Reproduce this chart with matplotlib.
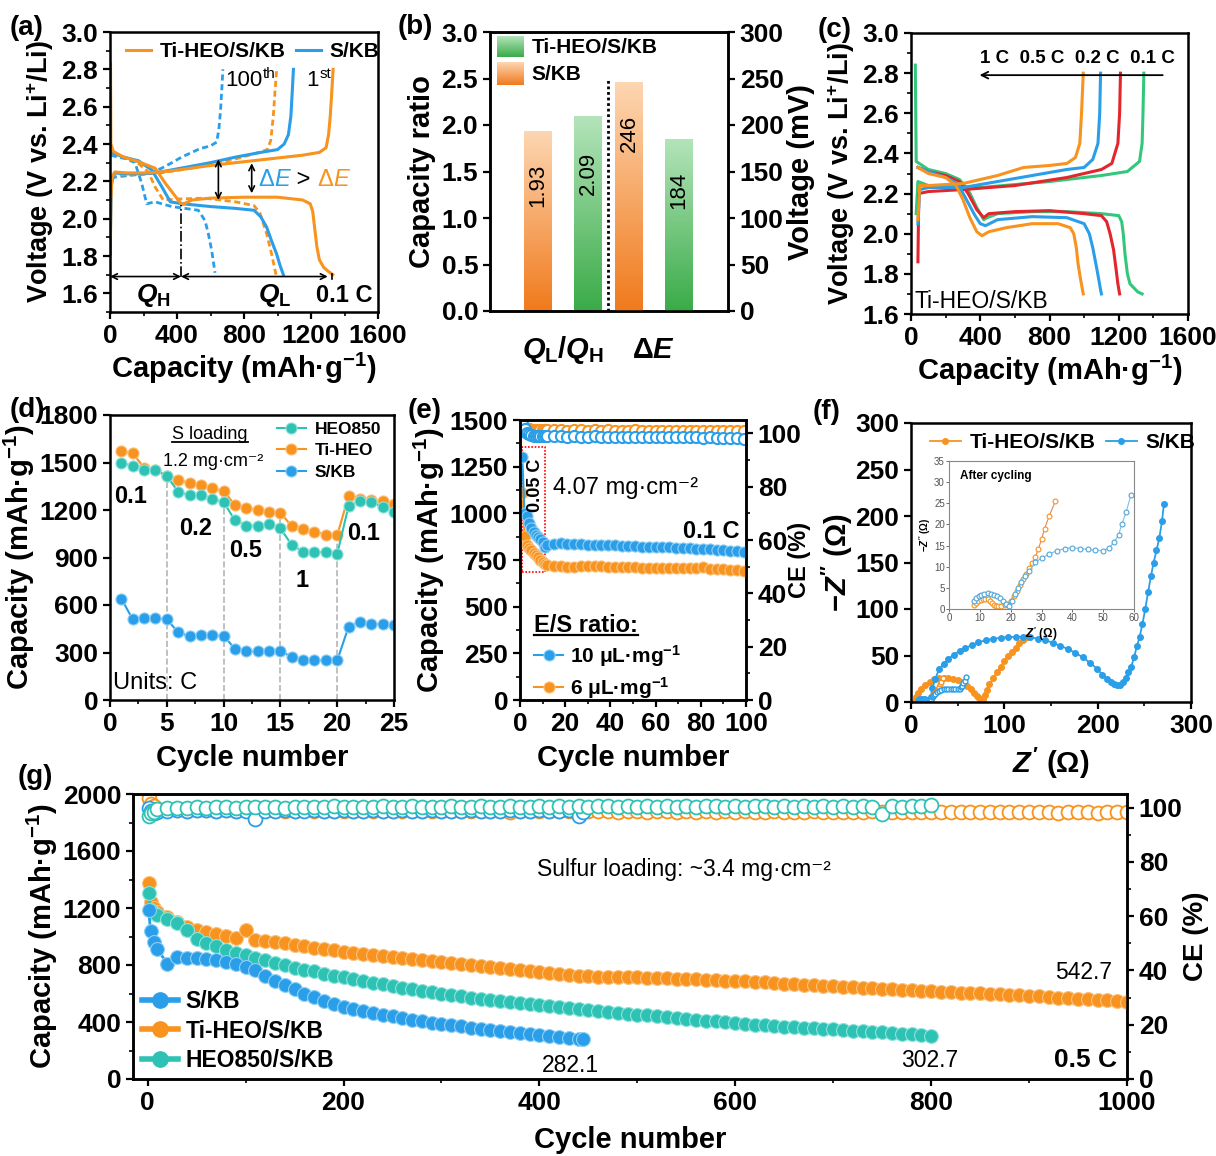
import matplotlib

matplotlib.use("Agg")
import matplotlib.pyplot as plt
import numpy as np
from matplotlib.colors import LinearSegmentedColormap
from matplotlib.lines import Line2D
from matplotlib.patches import Rectangle
from matplotlib.ticker import MultipleLocator, FormatStrFormatter

plt.rcParams.update({
    "font.family": ["Liberation Sans", "DejaVu Sans"],
    "font.size": 19,
    "font.weight": "bold",
    "axes.labelweight": "bold",
    "axes.linewidth": 1.8,
    "mathtext.fontset": "custom",
    "mathtext.rm": "Liberation Sans:bold",
    "mathtext.it": "Liberation Sans:italic:bold",
    "mathtext.bf": "Liberation Sans:bold",
})

ORANGE = "#f7931e"
BLUE = "#2a9ee8"
TEAL = "#2ec2b5"
RED = "#e2262c"
GREEN = "#33c77c"

# ---------------- (a) 0.1 C profiles, 1st / 100th cycle
a_ti1_dis_cap = [3, 5, 20, 80, 170, 270, 330, 390, 430, 490, 600, 800, 1000, 1150, 1195, 1210, 1222, 1235, 1250, 1275, 1300, 1330]
a_ti1_dis_v = [2.83, 2.40, 2.36, 2.33, 2.305, 2.27, 2.19, 2.12, 2.075, 2.10, 2.11, 2.115, 2.115, 2.10, 2.08, 2.04, 1.95, 1.85, 1.78, 1.74, 1.72, 1.70]
a_ti1_chg_cap = [3, 5, 12, 30, 100, 200, 300, 400, 600, 800, 1000, 1150, 1250, 1290, 1305, 1315, 1322, 1328, 1332]
a_ti1_chg_v = [1.90, 2.10, 2.22, 2.25, 2.245, 2.245, 2.25, 2.26, 2.285, 2.305, 2.325, 2.34, 2.355, 2.38, 2.45, 2.55, 2.65, 2.74, 2.80]
a_kb1_dis_cap = [5, 20, 80, 170, 250, 310, 360, 430, 600, 750, 860, 900, 935, 965, 995, 1015, 1035]
a_kb1_dis_v = [2.36, 2.35, 2.33, 2.31, 2.26, 2.17, 2.09, 2.08, 2.065, 2.055, 2.045, 2.01, 1.955, 1.88, 1.81, 1.75, 1.70]
a_kb1_chg_cap = [2, 3, 8, 25, 100, 200, 300, 450, 600, 750, 900, 1000, 1040, 1065, 1080, 1088, 1095]
a_kb1_chg_v = [1.81, 1.95, 2.18, 2.245, 2.24, 2.24, 2.25, 2.275, 2.30, 2.33, 2.355, 2.37, 2.40, 2.45, 2.55, 2.68, 2.80]
a_ti100_dis_cap = [5, 50, 150, 229, 269, 318, 400, 567, 750, 860, 895, 935, 965, 991]
a_ti100_dis_v = [2.35, 2.34, 2.31, 2.25, 2.17, 2.10, 2.105, 2.11, 2.09, 2.07, 2.03, 1.92, 1.81, 1.70]
a_ti100_chg_cap = [5, 30, 150, 300, 450, 600, 750, 870, 940, 960, 975, 985, 995]
a_ti100_chg_v = [2.22, 2.235, 2.235, 2.245, 2.265, 2.29, 2.32, 2.35, 2.37, 2.42, 2.55, 2.68, 2.80]
a_kb100_dis_cap = [5, 50, 100, 149, 189, 219, 269, 368, 527, 567, 587, 607, 627]
a_kb100_dis_v = [2.34, 2.33, 2.32, 2.30, 2.19, 2.08, 2.09, 2.065, 2.045, 1.99, 1.92, 1.83, 1.71]
a_kb100_chg_cap = [5, 100, 200, 250, 308, 370, 428, 537, 600, 637, 650, 660, 668, 674]
a_kb100_chg_v = [2.22, 2.23, 2.24, 2.25, 2.27, 2.30, 2.33, 2.375, 2.39, 2.41, 2.48, 2.58, 2.70, 2.80]

# ---------------- (b) ratio / polarization
b_labels = ["S/KB", "Ti-HEO/S/KB"]
b_ratio = [1.93, 2.09]
b_dE = [246, 184]

# ---------------- (c) Ti-HEO/S/KB at different rates
c_rates = ["1 C", "0.5 C", "0.2 C", "0.1 C"]
c_1_dis_cap = [40, 100, 200, 260, 300, 340, 380, 410, 450, 550, 700, 850, 920, 940, 955, 965, 980, 995]
c_1_dis_v = [2.33, 2.30, 2.28, 2.24, 2.17, 2.08, 2.01, 1.99, 2.01, 2.03, 2.05, 2.05, 2.03, 2.0, 1.93, 1.85, 1.77, 1.70]
c_1_chg_cap = [40, 50, 100, 300, 500, 650, 800, 900, 950, 975, 985, 990, 995]
c_1_chg_v = [2.07, 2.24, 2.24, 2.25, 2.29, 2.33, 2.34, 2.35, 2.38, 2.45, 2.6, 2.7, 2.8]
c_05_dis_cap = [40, 100, 200, 270, 320, 370, 400, 430, 500, 700, 900, 1000, 1030, 1050, 1070, 1085, 1095, 1100]
c_05_dis_v = [2.33, 2.31, 2.28, 2.25, 2.17, 2.09, 2.05, 2.04, 2.07, 2.085, 2.08, 2.05, 2.0, 1.93, 1.84, 1.77, 1.72, 1.70]
c_05_chg_cap = [40, 50, 100, 300, 500, 700, 900, 1000, 1050, 1080, 1090, 1095]
c_05_chg_v = [2.05, 2.22, 2.23, 2.23, 2.26, 2.29, 2.32, 2.33, 2.37, 2.45, 2.6, 2.8]
c_02_dis_cap = [40, 100, 200, 280, 330, 380, 420, 450, 600, 800, 1000, 1100, 1130, 1150, 1170, 1185, 1195, 1205]
c_02_dis_v = [2.33, 2.31, 2.29, 2.26, 2.20, 2.12, 2.08, 2.10, 2.11, 2.115, 2.10, 2.09, 2.06, 2.0, 1.92, 1.82, 1.75, 1.70]
c_02_chg_cap = [40, 45, 100, 300, 600, 900, 1100, 1160, 1195, 1205, 1210]
c_02_chg_v = [1.86, 2.2, 2.21, 2.22, 2.24, 2.28, 2.32, 2.35, 2.45, 2.6, 2.8]
c_01_dis_cap = [25, 30, 100, 200, 280, 330, 380, 420, 440, 500, 700, 900, 1100, 1200, 1217, 1226, 1236, 1250, 1265, 1310, 1335]
c_01_dis_v = [2.84, 2.36, 2.32, 2.30, 2.27, 2.22, 2.13, 2.07, 2.08, 2.10, 2.11, 2.11, 2.10, 2.09, 2.06, 2.0, 1.90, 1.80, 1.75, 1.71, 1.70]
c_01_chg_cap = [30, 40, 100, 400, 800, 1100, 1250, 1320, 1335, 1340, 1345]
c_01_chg_v = [2.10, 2.26, 2.24, 2.23, 2.26, 2.29, 2.31, 2.36, 2.45, 2.6, 2.8]

# ---------------- (d) rate capability, 1.2 mg cm-2
d_cycle = list(range(1, 26))
d_heo850 = [1495, 1480, 1452, 1452, 1416, 1314, 1293, 1293, 1268, 1251, 1134, 1102, 1102, 1113, 1085,
            979, 937, 937, 933, 922, 1225, 1255, 1251, 1219, 1187]
d_tiheo = [1573, 1558, 1467, 1452, 1416, 1389, 1372, 1357, 1336, 1321, 1230, 1215, 1198, 1187, 1183,
           1098, 1077, 1064, 1045, 1039, 1289, 1272, 1261, 1257, 1240]
d_skb = [640, 509, 519, 519, 509, 428, 403, 409, 409, 407, 322, 307, 307, 312, 312,
         269, 250, 250, 250, 250, 462, 492, 481, 477, 471]
d_rate_labels = ["0.1", "0.2", "0.5", "1", "0.1"]

# ---------------- (e) lean electrolyte, 4.07 mg cm-2
e_cycle = [1, 2, 3, 4, 5, 6, 7, 8, 9, 10, 11, 12, 15, 18, 21, 24, 27, 30, 33, 36, 39, 42, 45, 48, 51,
           54, 57, 60, 63, 66, 69, 72, 75, 78, 81, 84, 87, 90, 93, 96, 99]
e_cap_10 = [1300, 1000, 985, 950, 920, 900, 885, 875, 865, 845, 822, 828, 838, 840, 838, 836, 835, 833, 831,
            830, 830, 828, 826, 825, 823, 822, 821, 820, 818, 817, 815, 814, 812, 811, 809, 807, 805, 803,
            800, 797, 793]
e_cap_6 = [1110, 880, 830, 815, 805, 790, 775, 765, 748, 738, 728, 722, 720, 716, 712, 714, 716, 720, 718,
           716, 714, 715, 712, 712, 710, 708, 706, 706, 705, 706, 707, 709, 706, 707, 710, 704, 702, 700,
           698, 695, 692]
e_ce_10 = [103.5, 101.5, 100.2, 99.6, 99.3, 99.1, 99.0, 99.0, 98.9, 99.0, 98.9, 99.0, 98.9, 98.9, 98.8,
           98.9, 98.8, 98.8, 98.9, 98.7, 98.8, 98.7, 98.8, 98.7, 98.6, 98.7, 98.6, 98.7, 98.6, 98.5, 98.6,
           98.5, 98.6, 98.5, 98.4, 98.5, 98.4, 98.3, 98.4, 98.2, 98.0]
e_ce_6 = [101.0, 102.0, 101.8, 101.5, 101.4, 101.3, 101.3, 101.2, 101.2, 101.1, 101.2, 101.1, 101.2, 101.1,
          101.0, 101.1, 101.2, 101.0, 101.1, 101.0, 101.1, 101.0, 100.9, 101.0, 101.1, 100.9, 101.0, 100.9,
          101.0, 100.9, 100.8, 100.9, 101.0, 100.8, 100.9, 100.8, 100.9, 100.8, 100.7, 100.8, 100.7]

# ---------------- (f) EIS
f_ti_zr = [3, 5, 8, 11, 15, 20, 25, 30, 35, 40, 45, 50, 55, 60, 64, 68, 71, 73, 75, 76.5, 77.5, 79, 81, 84,
           88, 92, 96, 100, 104, 108, 112, 116, 120, 124]
f_ti_zi = [0, 5, 10, 14, 18.5, 22, 24.5, 25.8, 26.3, 26.2, 25.2, 23.5, 21, 17.5, 14, 10, 6.5, 4, 1.5, 0.5, 3,
           8, 13, 19, 26, 32, 38, 44, 49, 54, 58.5, 63, 66.5, 70]
f_kb_zr = [20, 21, 23, 26, 30, 35, 40, 46, 52, 58, 65, 72, 80, 88, 96, 104, 112, 120, 128, 136, 144, 152, 160,
           168, 176, 184, 192, 199, 205, 210, 214, 218, 221, 224, 227, 230, 233, 236, 239, 242, 245, 248, 251,
           254, 257, 260, 263, 266, 269, 271]
f_kb_zi = [0, 5, 15, 25, 35, 41, 46, 51, 55, 58, 61, 64, 66.5, 68, 69, 69.8, 70, 70, 69.5, 68, 66.5, 63.5,
           60.5, 57, 53, 48, 42, 36, 29.5, 25, 21.5, 19, 18, 18.5, 22, 26, 32, 38, 48, 60, 70, 84, 100, 118,
           135, 150, 163, 176, 195, 213]
fc_ti_zr = [8, 8.8, 9.5, 10.3, 11, 11.8, 12.5, 13.2, 14, 14.6, 15.2, 16, 17, 18, 19, 20, 21, 22, 23, 24, 25,
            26, 27, 28, 29, 30, 31, 32.5, 34.5]
fc_ti_zi = [0.9, 1.4, 1.9, 2.2, 2.4, 2.4, 2.3, 2.0, 1.5, 1.0, 0.7, 0.6, 0.7, 0.9, 1.3, 2.0, 3.0, 4.2, 5.6,
            7.0, 8.3, 9.6, 10.8, 12.3, 14.2, 16.5, 19.0, 22.0, 25.5]
fc_kb_zr = [8, 8.8, 9.6, 10.5, 11.5, 12.5, 13.5, 14.5, 15.5, 16.5, 17.5, 18.5, 19.3, 20.5, 21.5, 22.5, 23.5,
            24.5, 26, 28, 30, 32.5, 35, 37.5, 40, 42.5, 45, 47.5, 50, 52, 53.5, 55, 56, 57.5, 59]
fc_kb_zi = [2.0, 2.7, 3.1, 3.4, 3.6, 3.7, 3.6, 3.4, 3.0, 2.5, 1.8, 1.2, 0.6, 2.0, 3.5, 5.0, 6.5, 7.8, 9.0,
            11.0, 12.0, 13.0, 13.8, 14.3, 14.5, 14.3, 14.1, 13.9, 13.8, 14.5, 15.8, 17.5, 20.0, 23.0, 27.0]

# ---------------- (g) long cycling at 0.5 C
g_ti_cyc = [1, 3, 6] + list(range(10, 1001, 10))
g_ti_cap = [1378, 1240, 1200,
            1175, 1135, 1100, 1070, 1048, 1030, 1015, 1005, 992, 1049,
            975, 968, 962, 952, 942, 932, 922, 912, 903, 894,
            885, 877, 870, 862, 855, 848, 841, 834, 827, 820,
            813, 806, 799, 792, 785, 778, 771, 764, 757, 750,
            744, 738, 732, 726, 720, 716, 716, 718, 716, 713,
            711, 709, 707, 705, 703, 700, 697, 694, 691, 688,
            685, 682, 678, 674, 670, 666, 662, 658, 654, 650,
            646, 643, 640, 636, 632, 629, 626, 622, 619, 616,
            613, 610, 607, 604, 601, 598, 595, 591, 587, 583,
            579, 575, 571, 567, 563, 559, 555, 551, 547, 543]
g_ti_ce = [103.5, 101.5, 100.5,
           99.5, 99.2, 99.0, 98.9, 99.1, 99.0, 98.8, 99.0, 98.9, 99.0,
           98.8, 99.0, 98.9, 98.7, 98.9, 99.0, 98.8, 98.9, 98.7, 98.8,
           98.9, 98.7, 98.8, 98.9, 98.6, 98.8, 98.7, 98.9, 98.8, 98.6,
           98.8, 98.7, 98.9, 98.6, 98.8, 98.7, 98.5, 98.8, 98.7, 98.6,
           98.8, 98.6, 98.7, 98.5, 98.8, 98.6, 98.7, 98.5, 98.7, 98.6,
           98.5, 98.7, 98.6, 98.4, 98.7, 98.5, 98.6, 98.4, 98.6, 98.5,
           98.6, 98.4, 98.5, 98.6, 98.3, 98.5, 98.4, 98.6, 98.4, 98.5,
           98.3, 98.5, 98.4, 98.6, 98.3, 98.5, 98.4, 98.3, 98.5, 98.4,
           98.2, 98.4, 98.3, 98.5, 98.2, 98.4, 98.3, 98.2, 98.4, 98.3,
           98.2, 98.4, 98.1, 98.3, 98.2, 98.4, 98.1, 98.3, 98.2, 98.3]
g_heo_cyc = [1, 3, 6] + list(range(10, 801, 10))
g_heo_cap = [1307, 1185, 1165,
             1150, 1120, 1098, 1045, 980, 955, 932, 905, 885, 868,
             850, 832, 815, 798, 782, 768, 755, 740, 726, 713,
             700, 688, 676, 664, 652, 641, 630, 619, 608, 598,
             589, 580, 571, 562, 554, 546, 538, 530, 523, 516,
             509, 502, 496, 489, 482, 476, 470, 464, 458, 452,
             446, 440, 434, 428, 422, 416, 410, 404, 398, 392,
             387, 382, 377, 372, 368, 364, 360, 356, 352, 348,
             344, 340, 336, 332, 328, 323, 318, 313, 308, 303]
g_heo_ce = [97.0, 98.0, 98.5,
            99.6, 99.8, 100.0, 99.9, 100.1, 100.0, 100.2, 100.1, 100.0, 100.2,
            100.1, 100.3, 100.2, 100.0, 100.2, 100.3, 100.1, 100.2, 100.4, 100.2,
            100.3, 100.1, 100.2, 100.4, 100.3, 100.2, 100.4, 100.3, 100.1, 100.3,
            100.4, 100.2, 100.3, 100.4, 100.2, 100.3, 100.5, 100.3, 100.2, 100.4,
            100.3, 100.5, 100.2, 100.4, 100.3, 100.5, 100.4, 100.2, 100.4, 100.3,
            100.5, 100.3, 100.4, 100.2, 100.5, 100.3, 100.4, 100.5, 100.3, 100.4,
            100.2, 100.4, 100.5, 100.3, 100.4, 100.2, 100.5, 100.3, 100.4, 100.3,
            100.5, 100.3, 100.4, 100.2, 97.6, 100.4, 100.3, 100.5, 100.4, 100.8]
g_kb_cyc = [1, 3, 6] + list(range(10, 441, 10)) + [445]
g_kb_cap = [1183, 1037, 960,
            910, 810, 855, 852, 848, 840, 832, 824, 805, 785,
            765, 725, 690, 660, 630, 600, 573, 548, 525, 505,
            489, 474, 461, 450, 440, 428, 417, 406, 395, 386,
            377, 369, 360, 352, 344, 336, 328, 320, 314, 308,
            302, 296, 290, 284, 282]
g_kb_ce = [100.0, 98.8, 98.0,
           98.5, 98.8, 99.0, 98.9, 99.1, 99.0, 98.8, 99.0, 98.9, 98.7,
           95.8, 98.8, 98.9, 99.0, 98.8, 98.9, 99.0, 98.8, 98.9, 99.0,
           98.8, 98.9, 99.0, 98.9, 98.8, 99.0, 98.9, 98.8, 99.0, 98.9,
           98.8, 98.9, 99.0, 98.8, 98.9, 98.8, 99.0, 98.9, 98.8, 99.0,
           98.9, 98.8, 99.0, 97.0, 98.5]
g_end_labels = ["282.1", "302.7", "542.7"]

W, H = 1216, 1156


def rect(x0, y0, x1, y1):
    return [x0 / W, 1 - y1 / H, (x1 - x0) / W, (y1 - y0) / H]


def ticks(ax, size=19):
    ax.tick_params(which="both", direction="out", labelsize=size)
    ax.tick_params(which="major", length=5, width=1.6)
    ax.tick_params(which="minor", length=3, width=1.2)


def chain(ax, x, y, parts, size):
    t = ax.text(x, y, parts[0][0], color=parts[0][1], fontstyle=parts[0][2],
                fontsize=size, fontweight="normal", va="center", ha="left")
    for s, c, st in parts[1:]:
        t = ax.annotate(s, xy=(1, 0), xycoords=t, va="bottom", ha="left", color=c,
                        fontstyle=st, fontsize=size, fontweight="normal")
    return t


def underline(fig, txt, lw=1.3):
    fig.canvas.draw()
    bb = txt.get_window_extent().transformed(fig.transFigure.inverted())
    fig.add_artist(Line2D([bb.x0, bb.x1], [bb.y0 + 0.001] * 2, transform=fig.transFigure,
                          color="k", lw=lw))


def grad_img(ax, ext, lo, hi, transform=None):
    cmap = LinearSegmentedColormap.from_list("g", [lo, hi])
    kw = {} if transform is None else {"transform": transform}
    ax.imshow(np.linspace(0, 1, 256).reshape(-1, 1), cmap=cmap, origin="lower", aspect="auto",
              extent=ext, zorder=2, **kw)


fig = plt.figure(figsize=(12.16, 11.56), dpi=100)

# ======================= (a)
ax = fig.add_axes(rect(110, 32, 378, 312))
dot = (0, (2.2, 1.3))
ax.plot(a_kb100_dis_cap, a_kb100_dis_v, color=BLUE, lw=2, ls=dot)
ax.plot(a_kb100_chg_cap, a_kb100_chg_v, color=BLUE, lw=2, ls=dot)
ax.plot(a_ti100_dis_cap, a_ti100_dis_v, color=ORANGE, lw=2, ls=dot)
ax.plot(a_ti100_chg_cap, a_ti100_chg_v, color=ORANGE, lw=2, ls=dot)
ax.plot(a_kb1_dis_cap, a_kb1_dis_v, color=BLUE, lw=2.2)
ax.plot(a_kb1_chg_cap, a_kb1_chg_v, color=BLUE, lw=2.2, label="S/KB")
ax.plot(a_ti1_dis_cap, a_ti1_dis_v, color=ORANGE, lw=2.2, label="Ti-HEO/S/KB")
ax.plot(a_ti1_chg_cap, a_ti1_chg_v, color=ORANGE, lw=2.2)
h, l = ax.get_legend_handles_labels()
ax.legend(h[::-1], l[::-1], loc="upper left", bbox_to_anchor=(-0.01, 1.03), ncol=2, frameon=False,
          fontsize=15, handlelength=1.2, handletextpad=0.4, columnspacing=0.5)
arr = dict(arrowstyle="<->", lw=1.2, color="k", mutation_scale=10, shrinkA=0, shrinkB=0)
ax.annotate("", xy=(647, 2.10), xytext=(647, 2.318), arrowprops=arr)
ax.annotate("", xy=(846, 2.136), xytext=(846, 2.297), arrowprops=arr)
ax.plot([424, 424], [1.69, 2.075], color="k", lw=1.2, ls="-.")
ax.annotate("", xy=(0, 1.69), xytext=(424, 1.69), arrowprops=arr)
ax.annotate("", xy=(424, 1.69), xytext=(1300, 1.69), arrowprops=arr)
ax.plot([1328, 1328], [1.675, 1.705], color="k", lw=1.2)
t = ax.text(687, 2.74, "100", fontsize=16, fontweight="normal", va="center")
ax.annotate("th", xy=(1, 0.5), xycoords=t, fontsize=11, fontweight="normal", va="bottom")
t = ax.text(1174, 2.74, "1", fontsize=16, fontweight="normal", va="center")
ax.annotate("st", xy=(1, 0.5), xycoords=t, fontsize=11, fontweight="normal", va="bottom")
chain(ax, 886, 2.207, [("Δ", BLUE, "normal"), ("E", BLUE, "italic"), (" > ", "k", "normal"),
                       ("Δ", ORANGE, "normal"), ("E", ORANGE, "italic")], 17)
ax.text(259, 1.59, r"$Q_{\mathrm{H}}$", fontsize=19, ha="center", va="center")
ax.text(985, 1.59, r"$Q_{\mathrm{L}}$", fontsize=19, ha="center", va="center")
ax.text(1565, 1.59, "0.1 C", fontsize=17, ha="right", va="center")
ax.set_xlim(0, 1600)
ax.set_ylim(1.5, 3.0)
ax.set_xticks([0, 400, 800, 1200, 1600])
ax.set_yticks(np.arange(1.6, 3.01, 0.2))
ax.yaxis.set_major_formatter(FormatStrFormatter("%.1f"))
ax.xaxis.set_minor_locator(MultipleLocator(200))
ax.yaxis.set_minor_locator(MultipleLocator(0.1))
ticks(ax)
ax.set_xlabel("Capacity (mAh·g$^{-1}$)", fontsize=21, labelpad=2)
ax.set_ylabel("Voltage (V vs. Li$^{+}$/Li)", fontsize=19.5, labelpad=4)

# ======================= (b)
ax = fig.add_axes(rect(490, 32, 728, 311))
ax2 = ax.twinx()
OR_LO, OR_HI = "#f07a1c", "#fdd6b2"
GR_LO, GR_HI = "#3aab48", "#b4e4ba"
bx = [1.0, 2.0, 2.82, 3.82]
bw = 0.56
grad_img(ax, [bx[0] - bw / 2, bx[0] + bw / 2, 0, b_ratio[0]], OR_LO, OR_HI)
grad_img(ax, [bx[1] - bw / 2, bx[1] + bw / 2, 0, b_ratio[1]], GR_LO, GR_HI)
grad_img(ax2, [bx[2] - bw / 2, bx[2] + bw / 2, 0, b_dE[0]], OR_LO, OR_HI)
grad_img(ax2, [bx[3] - bw / 2, bx[3] + bw / 2, 0, b_dE[1]], GR_LO, GR_HI)
ax.text(bx[0], 1.35, f"{b_ratio[0]:.2f}", rotation=90, fontsize=16, fontweight="normal",
        ha="center", va="center", zorder=5)
ax.text(bx[1], 1.48, f"{b_ratio[1]:.2f}", rotation=90, fontsize=16, fontweight="normal",
        ha="center", va="center", zorder=5)
ax2.text(bx[2], 191, f"{b_dE[0]}", rotation=90, fontsize=16, fontweight="normal",
         ha="center", va="center", zorder=5)
ax2.text(bx[3], 130, f"{b_dE[1]}", rotation=90, fontsize=16, fontweight="normal",
         ha="center", va="center", zorder=5)
ax.plot([2.4, 2.4], [0, 2.5], color="k", lw=2, ls=(0, (1, 1)), zorder=4)
# legend swatches
grad_img(ax, [0.03, 0.14, 0.91, 0.982], GR_LO, GR_HI, transform=ax.transAxes)
grad_img(ax, [0.03, 0.14, 0.81, 0.889], OR_LO, OR_HI, transform=ax.transAxes)
ax.text(0.175, 0.946, b_labels[1], transform=ax.transAxes, fontsize=15, va="center")
ax.text(0.175, 0.848, b_labels[0], transform=ax.transAxes, fontsize=15, va="center")
ax.text(1.5, -0.14, r"$Q_{\mathrm{L}}/Q_{\mathrm{H}}$", transform=ax.get_xaxis_transform(),
        fontsize=21, ha="center", va="center")
ax.text(3.32, -0.14, r"$\Delta E$", transform=ax.get_xaxis_transform(),
        fontsize=21, ha="center", va="center")
ax.set_xlim(0.04, 4.8)
ax.set_ylim(0, 3.0)
ax2.set_ylim(0, 300)
ax.set_xticks([])
ax.set_yticks(np.arange(0, 3.01, 0.5))
ax.yaxis.set_major_formatter(FormatStrFormatter("%.1f"))
ax2.set_yticks(np.arange(0, 301, 50))
ticks(ax)
ticks(ax2)
ax.set_ylabel("Capacity ratio", fontsize=21, labelpad=4)
ax2.set_ylabel("Voltage (mV)", fontsize=21, labelpad=2)

# ======================= (c)
ax = fig.add_axes(rect(911, 33, 1188, 314))
for dis_c, dis_v, chg_c, chg_v, col in [
        (c_01_dis_cap, c_01_dis_v, c_01_chg_cap, c_01_chg_v, GREEN),
        (c_02_dis_cap, c_02_dis_v, c_02_chg_cap, c_02_chg_v, RED),
        (c_05_dis_cap, c_05_dis_v, c_05_chg_cap, c_05_chg_v, BLUE),
        (c_1_dis_cap, c_1_dis_v, c_1_chg_cap, c_1_chg_v, ORANGE)]:
    ax.plot(dis_c, dis_v, color=col, lw=2.2)
    ax.plot(chg_c, chg_v, color=col, lw=2.2)
ax.annotate("", xy=(380, 2.79), xytext=(1470, 2.79),
            arrowprops=dict(arrowstyle="->", lw=1.3, color="k", mutation_scale=12))
ax.text(400, 2.875, "  ".join(c_rates), fontsize=13.5, ha="left", va="center")
ax.text(20, 1.66, "Ti-HEO/S/KB", fontsize=16.5, fontweight="normal", ha="left", va="center")
ax.set_xlim(0, 1600)
ax.set_ylim(1.6, 3.0)
ax.set_xticks([0, 400, 800, 1200, 1600])
ax.set_yticks(np.arange(1.6, 3.01, 0.2))
ax.yaxis.set_major_formatter(FormatStrFormatter("%.1f"))
ax.xaxis.set_minor_locator(MultipleLocator(200))
ax.yaxis.set_minor_locator(MultipleLocator(0.1))
ticks(ax)
ax.set_xlabel("Capacity (mAh·g$^{-1}$)", fontsize=21, labelpad=2)
ax.set_ylabel("Voltage (V vs. Li$^{+}$/Li)", fontsize=19.5, labelpad=4)

# ======================= (d)
ax = fig.add_axes(rect(110, 415, 394, 700))
for c in [5, 10, 15, 20]:
    ax.plot([c, c], [0, d_tiheo[c - 1]], color="#b5b5b5", lw=1.2, ls="--", zorder=1)
mk = dict(marker="o", ms=8, lw=1.5, mew=0.8)
ax.plot(d_cycle, d_skb, color=BLUE, mec="#8fd0f5", label="S/KB", **mk)
ax.plot(d_cycle, d_tiheo, color=ORANGE, mec="#fbc27f", label="Ti-HEO", **mk)
ax.plot(d_cycle, d_heo850, color=TEAL, mec="#8fe3da", label="HEO850", **mk)
h, l = ax.get_legend_handles_labels()
ax.legend(h[::-1], l[::-1], loc="upper right", bbox_to_anchor=(1.01, 1.03), frameon=False,
          fontsize=12.5, handlelength=1.7, handletextpad=0.5, labelspacing=0.35)
for lab, cx, cy in zip(d_rate_labels, [1.8, 7.5, 11.9, 16.9, 22.3], [1283, 1081, 943, 753, 1049]):
    ax.text(cx, cy, lab, fontsize=17, ha="center", va="center")
d_sl = ax.text(8.8, 1675, "S loading", fontsize=13, fontweight="normal", ha="center", va="center")
ax.text(9.1, 1505, "1.2 mg·cm⁻²", fontsize=13, fontweight="normal", ha="center", va="center")
ax.text(0.25, 106, "Units: C", fontsize=17, fontweight="normal", ha="left", va="center")
ax.set_xlim(0, 25)
ax.set_ylim(0, 1800)
ax.set_xticks(np.arange(0, 26, 5))
ax.set_yticks(np.arange(0, 1801, 300))
ax.xaxis.set_minor_locator(MultipleLocator(2.5))
ticks(ax)
ax.set_xlabel("Cycle number", fontsize=21, labelpad=6)
ax.set_ylabel("Capacity (mAh·g$^{-1}$)", fontsize=21, labelpad=2)

# ======================= (e)
ax = fig.add_axes(rect(520, 420, 746, 700))
ax2 = ax.twinx()
ce = dict(marker="o", ms=8, mfc="white", mew=1.5, lw=0)
ax2.plot(e_cycle, e_ce_6, color=ORANGE, **ce)
ax2.plot(e_cycle, e_ce_10, color=BLUE, **ce)
ax.set_zorder(ax2.get_zorder() + 1)
ax.patch.set_visible(False)
mk = dict(marker="o", ms=8, lw=1.5, mew=0.8)
ax.plot(e_cycle, e_cap_6, color=ORANGE, mec="#fbc27f", label="6 μL·mg$^{-1}$", **mk)
ax.plot(e_cycle, e_cap_10, color=BLUE, mec="#8fd0f5", label="10 μL·mg$^{-1}$", **mk)
ax.add_patch(Rectangle((0.9, 688), 10.1, 669, fill=False, ec="red", ls=(0, (1, 1)), lw=1.2))
ax.text(6.7, 1150, "0.05 C", rotation=90, fontsize=13, ha="center", va="center")
ax.text(14.5, 1135, "4.07 mg·cm⁻²", fontsize=17, fontweight="normal", ha="left", va="center")
ax.text(97, 905, "0.1 C", fontsize=17, ha="right", va="center")
h, l = ax.get_legend_handles_labels()
leg = ax.legend(h[::-1], l[::-1], loc="lower left", bbox_to_anchor=(-0.02, -0.07), frameon=False,
                fontsize=15, handlelength=1.4, handletextpad=0.3, labelspacing=0.3,
                title="E/S ratio:", title_fontproperties={"weight": "bold", "size": 17})
leg._legend_box.align = "left"
ax.set_xlim(0, 100)
ax.set_ylim(0, 1500)
ax2.set_ylim(0, 105)
ax.set_xticks(np.arange(0, 101, 20))
ax.set_yticks(np.arange(0, 1501, 250))
ax2.set_yticks(np.arange(0, 101, 20))
ax.xaxis.set_minor_locator(MultipleLocator(10))
ax.yaxis.set_minor_locator(MultipleLocator(125))
ax2.yaxis.set_minor_locator(MultipleLocator(10))
ticks(ax)
ticks(ax2)
ax.set_xlabel("Cycle number", fontsize=21, labelpad=6)
ax.set_ylabel("Capacity (mAh·g$^{-1}$)", fontsize=21, labelpad=2)
ax2.set_ylabel("CE (%)", fontsize=17, labelpad=-10)

# ======================= (f)
ax = fig.add_axes(rect(911, 423, 1191, 702))
ax.plot(f_ti_zr, f_ti_zi, color=ORANGE, marker="o", ms=4, lw=1.3, label="Ti-HEO/S/KB")
ax.plot(f_kb_zr, f_kb_zi, color=BLUE, marker="o", ms=4, lw=1.3, label="S/KB")
ax.plot(fc_ti_zr, fc_ti_zi, color=ORANGE, marker="o", ms=3.5, mfc="white", lw=1)
ax.plot(fc_kb_zr, fc_kb_zi, color=BLUE, marker="o", ms=3.5, mfc="white", lw=1)
ax.legend(loc="upper left", bbox_to_anchor=(0.0, 1.03), ncol=2, frameon=False, fontsize=15,
          handlelength=1.5, handletextpad=0.4, columnspacing=0.5)
ax.set_xlim(0, 300)
ax.set_ylim(0, 300)
ax.set_xticks(np.arange(0, 301, 100))
ax.set_yticks(np.arange(0, 301, 50))
ax.xaxis.set_minor_locator(MultipleLocator(50))
ticks(ax)
ax.set_xlabel("$Z'$ (Ω)", fontsize=21, labelpad=6)
ax.set_ylabel("$-Z''$ (Ω)", fontsize=21, labelpad=0)

axi = fig.add_axes(rect(949, 461, 1134, 609))
axi.plot(fc_ti_zr, fc_ti_zi, color="#e8825a", lw=0.8, marker="o", ms=3.5, mfc="white",
         mec=ORANGE, mew=0.8)
axi.plot(fc_kb_zr, fc_kb_zi, color="#7cc0e8", lw=0.8, marker="o", ms=3.5, mfc="white",
         mec="#4fa6d8", mew=0.8)
axi.set_xlim(0, 60)
axi.set_ylim(0, 35)
axi.set_xticks(np.arange(0, 61, 10))
axi.set_yticks(np.arange(0, 36, 5))
for s in axi.spines.values():
    s.set_color("#888888")
    s.set_linewidth(0.8)
axi.tick_params(which="both", direction="out", labelsize=7, colors="#555555", length=2, width=0.6,
                pad=1)
for lb in axi.get_xticklabels() + axi.get_yticklabels():
    lb.set_fontweight("normal")
axi.set_xlabel("$Z'$ (Ω)", fontsize=8.5, labelpad=1)
axi.set_ylabel("$-Z''$ (Ω)", fontsize=7, labelpad=1)
axi.text(0.06, 0.9, "After cycling", transform=axi.transAxes, fontsize=8.5, va="center")

# ======================= (g)
ax = fig.add_axes(rect(133, 794, 1127, 1079))
ax2 = ax.twinx()
ce = dict(marker="o", ms=10, mfc="white", mew=1.3, lw=0)
ax2.plot(g_ti_cyc, g_ti_ce, color=ORANGE, **ce)
ax2.plot(g_kb_cyc, g_kb_ce, color=BLUE, **ce)
ax2.plot(g_heo_cyc, g_heo_ce, color=TEAL, **ce)
ax.set_zorder(ax2.get_zorder() + 1)
ax.patch.set_visible(False)
mk = dict(marker="o", ms=10, lw=2, mew=0.8)
ax.plot(g_ti_cyc, g_ti_cap, color=ORANGE, mec="#fbc27f", **mk)
ax.plot(g_heo_cyc, g_heo_cap, color=TEAL, mec="#8fe3da", **mk)
ax.plot(g_kb_cyc, g_kb_cap, color=BLUE, mec="#8fd0f5", **mk)
hd = [Line2D([], [], color=c, lw=4, marker="o", ms=11) for c in (BLUE, ORANGE, TEAL)]
ax.legend(hd, ["S/KB", "Ti-HEO/S/KB", "HEO850/S/KB"], loc="lower left",
          bbox_to_anchor=(-0.005, -0.025), frameon=False, fontsize=16.5, handlelength=1.6,
          handletextpad=0.3, labelspacing=0.3, borderaxespad=0.2)
ax.text(398, 1467, "Sulfur loading: ~3.4 mg·cm⁻²", fontsize=16.5, fontweight="normal",
        ha="left", va="center")
for lab, cx, cy in zip(g_end_labels, [432, 798, 956], [98, 133, 744]):
    ax.text(cx, cy, lab, fontsize=16.5, fontweight="normal", ha="center", va="center")
ax.text(990, 133, "0.5 C", fontsize=19, ha="right", va="center")
ax.set_xlim(-15, 1000)
ax.set_ylim(0, 2000)
ax2.set_ylim(0, 105)
ax.set_xticks(np.arange(0, 1001, 200))
ax.set_yticks(np.arange(0, 2001, 400))
ax2.set_yticks(np.arange(0, 101, 20))
ax.xaxis.set_minor_locator(MultipleLocator(100))
ax.yaxis.set_minor_locator(MultipleLocator(200))
ax2.yaxis.set_minor_locator(MultipleLocator(10))
ticks(ax)
ticks(ax2)
ax.set_xlabel("Cycle number", fontsize=21, labelpad=8)
ax.set_ylabel("Capacity (mAh·g$^{-1}$)", fontsize=21, labelpad=2)
ax2.set_ylabel("CE (%)", fontsize=20, labelpad=0)

# panel letters
for lab, px, py in [("(a)", 27, 28), ("(b)", 415, 27), ("(c)", 835, 30), ("(d)", 27, 410),
                    ("(e)", 425, 411), ("(f)", 827, 412), ("(g)", 35, 777)]:
    fig.text(px / W, 1 - py / H, lab, fontsize=20, ha="center", va="center")

underline(fig, d_sl)
underline(fig, leg.get_title(), lw=1.6)

fig.savefig("out.png", dpi=100)
